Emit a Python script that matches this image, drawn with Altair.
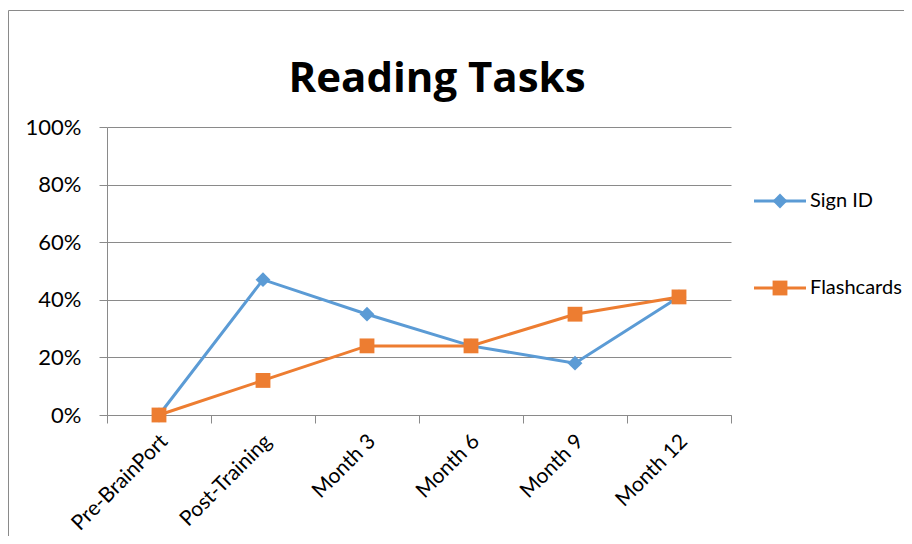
import altair as alt
import pandas as pd

categories = ["Pre-BrainPort", "Post-Training", "Month 3", "Month 6", "Month 9", "Month 12"]
series_names = ["Sign ID", "Flashcards"]
sign_id = [0.00, 0.47, 0.35, 0.24, 0.18, 0.41]
flashcards = [0.00, 0.12, 0.24, 0.24, 0.35, 0.41]
y_ticks = [0, 0.2, 0.4, 0.6, 0.8, 1.0]
colors = ["#5B9BD5", "#ED7D31"]
shapes = ["diamond", "square"]
chart_title = ["Reading Tasks"]

rows = []
for name, vals in zip(series_names, [sign_id, flashcards]):
    for c, v in zip(categories, vals):
        rows.append({"stage": c, "value": v, "series": name})
df = pd.DataFrame(rows)
legend_df = pd.DataFrame({"series": series_names})
title_df = pd.DataFrame({"t": chart_title})
one = pd.DataFrame({"a": [0]})

FONT = "Lato"
GRID = "#8a8a8a"

x_enc = alt.X(
    "stage:N",
    sort=categories,
    scale=alt.Scale(type="band", paddingInner=0, paddingOuter=0),
    axis=alt.Axis(
        title=None, tickBand="extent", labelAngle=315, labelAlign="right",
        labelBaseline="middle", labelPadding=15, labelOffset=5, tickSize=8,
        domainColor=GRID, tickColor=GRID, labelFont=FONT, labelFontSize=21,
        labelColor="black", grid=False,
    ),
)
color_enc = alt.Color("series:N", scale=alt.Scale(domain=series_names, range=colors), legend=None)
shape_enc = alt.Shape("series:N", scale=alt.Scale(domain=series_names, range=shapes), legend=None)

line = alt.Chart(df).mark_line(strokeWidth=3).encode(
    x=x_enc,
    y=alt.Y(
        "value:Q",
        scale=alt.Scale(domain=[0, 1], nice=False, zero=True),
        axis=alt.Axis(
            title=None, values=y_ticks, format=".0%", tickSize=8, domainColor=GRID,
            tickColor=GRID, gridColor=GRID, grid=True, labelFont=FONT,
            labelFontSize=22, labelColor="black", labelPadding=18,
        ),
    ),
    color=color_enc,
    detail="series:N",
)
points = alt.Chart(df).mark_point(filled=True, size=220, opacity=1).encode(
    x=alt.X("stage:N", sort=categories),
    y=alt.Y("value:Q"),
    color=color_enc,
    shape=shape_enc,
)
main = alt.layer(line, points)

leg_y = alt.Y("series:N", scale=alt.Scale(type="point", domain=series_names, range=[74, 161], padding=0), axis=None)
leg_rule = alt.Chart(legend_df).mark_rule(strokeWidth=3).encode(
    x=alt.value(647), x2=alt.value(699), y=leg_y, color=color_enc
)
leg_pt = alt.Chart(legend_df).mark_point(filled=True, size=220, opacity=1).encode(
    x=alt.value(673), y=leg_y, color=color_enc, shape=shape_enc
)
leg_txt = alt.Chart(legend_df).mark_text(
    align="left", baseline="middle", font=FONT, fontSize=20, color="black"
).encode(x=alt.value(703), y=leg_y, text="series:N")
legend = alt.layer(leg_rule, leg_pt, leg_txt)

title = alt.Chart(title_df).mark_text(
    align="center", baseline="alphabetic", font="Open Sans", fontSize=42, fontWeight="bold", color="black"
).encode(x=alt.value(330), y=alt.value(-35), text="t:N")

border_left = alt.Chart(one).mark_rule(color=GRID, strokeWidth=1).encode(
    x=alt.value(-98.5), y=alt.value(-116.5), y2=alt.value(420)
)
border_top = alt.Chart(one).mark_rule(color=GRID, strokeWidth=1).encode(
    x=alt.value(-98.5), x2=alt.value(800), y=alt.value(-116.5)
)

chart = alt.layer(border_left, border_top, title, main, legend).resolve_scale(y="independent").properties(
    width=624,
    height=288,
    autosize=alt.AutoSizeParams(type="none"),
    padding={"left": 99, "top": 119, "right": 173, "bottom": 121},
).configure_view(stroke=None)

chart.save("out.html", embed_options={"renderer": "svg", "actions": False})
